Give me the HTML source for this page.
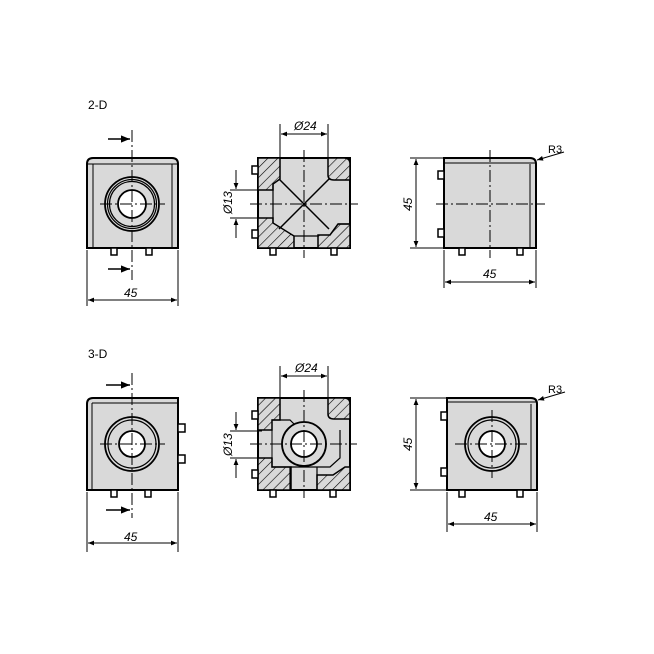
<!DOCTYPE html>
<html><head><meta charset="utf-8"><style>html,body{margin:0;padding:0;background:#fff}svg{display:block}</style></head><body>
<svg width="654" height="654" viewBox="0 0 654 654" xmlns="http://www.w3.org/2000/svg" font-family="Liberation Sans, sans-serif">
<defs>
<pattern id="h" width="7" height="7" patternUnits="userSpaceOnUse" patternTransform="rotate(45)">
<rect width="7" height="7" fill="#d9d9d9"/><line x1="0" y1="0" x2="0" y2="7" stroke="#000" stroke-width="1.2"/></pattern>
<marker id="a" viewBox="0 0 10 10" refX="10" refY="5" markerWidth="9" markerHeight="6" orient="auto-start-reverse"><path d="M0,1 L10,5 L0,9 z" fill="#000"/></marker>
<g id="peg"><rect x="-3" y="0" width="6" height="7" fill="#fff" stroke="#000" stroke-width="1.5"/></g>
</defs>
<g stroke="#000" stroke-width="1" fill="none">
<text x="88" y="109" font-size="12" fill="#000" stroke="none">2-D</text>
<text x="88" y="358" font-size="12" fill="#000" stroke="none">3-D</text>

<!-- ===== TOP LEFT ===== -->
<path d="M87,248 V164 Q87,158 93,158 H172 Q178,158 178,164 V248 Z" fill="#d9d9d9" stroke-width="2"/>
<line x1="93" y1="164" x2="93" y2="248"/><line x1="172" y1="164" x2="172" y2="248"/><line x1="87" y1="164" x2="178" y2="164"/>
<circle cx="132" cy="204" r="27" stroke-width="1.8"/><circle cx="132" cy="204" r="24.5" stroke-width="1.2"/><circle cx="132" cy="204" r="22.5" stroke-width="1.2"/>
<circle cx="132" cy="204" r="14" fill="#fff" stroke-width="1.8"/>
<use href="#peg" x="114" y="248"/><use href="#peg" x="149" y="248"/>
<line x1="132" y1="130" x2="132" y2="280" stroke-dasharray="12,3,2,3"/>
<line x1="100" y1="204" x2="165" y2="204" stroke-dasharray="12,3,2,3"/>
<line x1="108" y1="139" x2="130" y2="139" stroke-width="1.5" marker-end="url(#a)"/>
<line x1="108" y1="269" x2="130" y2="269" stroke-width="1.5" marker-end="url(#a)"/>
<line x1="87" y1="250" x2="87" y2="306"/><line x1="178" y1="250" x2="178" y2="306"/>
<line x1="88" y1="300" x2="177" y2="300" marker-start="url(#a)" marker-end="url(#a)"/>
<text x="124" y="297" font-size="12" font-style="italic" fill="#000" stroke="none">45</text>

<!-- ===== TOP MIDDLE ===== -->
<rect x="258" y="158" width="92" height="90" fill="#d9d9d9" stroke-width="2"/>
<path d="M258,158 H280 V179 L273,184 V190 H258 Z" fill="url(#h)" stroke-width="1.5"/>
<path d="M328,158 H344 Q350,158 350,164 V180 H334 Q328,180 328,175 Z" fill="url(#h)" stroke-width="1.5"/>
<path d="M258,218 H273 V223 L294,236 V248 H258 Z" fill="url(#h)" stroke-width="1.5"/>
<path d="M350,224 V248 H318 V235 H330 L338,224 Z" fill="url(#h)" stroke-width="1.5"/>
<line x1="279" y1="179" x2="329" y2="229" stroke-width="1.5"/>
<line x1="279" y1="229" x2="329" y2="179" stroke-width="1.5"/>
<path d="M273,184 V223 M294,236 H318 M338,224 H350" stroke-width="1.2"/>
<rect x="252" y="166" width="6" height="8" fill="#fff" stroke-width="1.5"/><rect x="252" y="230" width="6" height="8" fill="#fff" stroke-width="1.5"/>
<use href="#peg" x="273" y="248"/><use href="#peg" x="334" y="248"/>
<line x1="304" y1="150" x2="304" y2="258" stroke-dasharray="12,3,2,3"/>
<line x1="250" y1="204" x2="358" y2="204" stroke-dasharray="12,3,2,3"/>
<line x1="280" y1="124" x2="280" y2="158"/><line x1="328" y1="124" x2="328" y2="158"/>
<line x1="281" y1="134" x2="327" y2="134" marker-start="url(#a)" marker-end="url(#a)"/>
<text x="294" y="130" font-size="12" font-style="italic" fill="#000" stroke="none">Ø24</text>
<line x1="230" y1="190" x2="262" y2="190"/><line x1="230" y1="218" x2="262" y2="218"/>
<line x1="236" y1="170" x2="236" y2="189" marker-end="url(#a)"/><line x1="236" y1="238" x2="236" y2="219" marker-end="url(#a)"/>
<text x="0" y="0" font-size="12" font-style="italic" fill="#000" stroke="none" transform="translate(232,214) rotate(-90)">Ø13</text>

<!-- ===== TOP RIGHT ===== -->
<path d="M444,158 H530 Q536,158 536,164 V248 H444 Z" fill="#d9d9d9" stroke-width="2"/>
<line x1="530" y1="164" x2="530" y2="248"/><line x1="444" y1="163" x2="536" y2="163"/>
<rect x="438" y="171" width="6" height="8" fill="#fff" stroke-width="1.5"/><rect x="438" y="229" width="6" height="8" fill="#fff" stroke-width="1.5"/>
<use href="#peg" x="462" y="248"/><use href="#peg" x="520" y="248"/>
<line x1="490" y1="150" x2="490" y2="258" stroke-dasharray="12,3,2,3"/>
<line x1="436" y1="204" x2="545" y2="204" stroke-dasharray="12,3,2,3"/>
<line x1="410" y1="158" x2="443" y2="158"/><line x1="410" y1="248" x2="443" y2="248"/>
<line x1="416" y1="159" x2="416" y2="247" marker-start="url(#a)" marker-end="url(#a)"/>
<text x="0" y="0" font-size="12" font-style="italic" fill="#000" stroke="none" transform="translate(412,211) rotate(-90)">45</text>
<line x1="444" y1="250" x2="444" y2="288"/><line x1="536" y1="250" x2="536" y2="288"/>
<line x1="445" y1="282" x2="535" y2="282" marker-start="url(#a)" marker-end="url(#a)"/>
<text x="483" y="278" font-size="12" font-style="italic" fill="#000" stroke="none">45</text>
<line x1="564" y1="152" x2="537" y2="160" marker-end="url(#a)"/>
<text x="548" y="153" font-size="11" fill="#000" stroke="none">R3</text>

<!-- ===== BOTTOM LEFT ===== -->
<path d="M87,490 V404 Q87,398 93,398 H178 V490 Z" fill="#d9d9d9" stroke-width="2"/>
<line x1="92" y1="403" x2="92" y2="490"/><line x1="92" y1="403" x2="178" y2="403"/>
<circle cx="132" cy="444" r="27" stroke-width="1.8"/><circle cx="132" cy="444" r="24" stroke-width="1.2"/>
<circle cx="132" cy="444" r="13" fill="#fff" stroke-width="1.8"/>
<rect x="178" y="424" width="7" height="8" fill="#fff" stroke-width="1.5"/><rect x="178" y="455" width="7" height="8" fill="#fff" stroke-width="1.5"/>
<use href="#peg" x="114" y="490"/><use href="#peg" x="148" y="490"/>
<line x1="132" y1="373" x2="132" y2="518" stroke-dasharray="12,3,2,3"/>
<line x1="100" y1="444" x2="165" y2="444" stroke-dasharray="12,3,2,3"/>
<line x1="106" y1="385" x2="130" y2="385" stroke-width="1.5" marker-end="url(#a)"/>
<line x1="106" y1="510" x2="130" y2="510" stroke-width="1.5" marker-end="url(#a)"/>
<line x1="87" y1="492" x2="87" y2="552"/><line x1="178" y1="492" x2="178" y2="552"/>
<line x1="88" y1="543" x2="177" y2="543" marker-start="url(#a)" marker-end="url(#a)"/>
<text x="124" y="541" font-size="12" font-style="italic" fill="#000" stroke="none">45</text>

<!-- ===== BOTTOM MIDDLE ===== -->
<rect x="258" y="398" width="92" height="92" fill="#d9d9d9" stroke-width="2"/>
<path d="M258,398 H280 V420 H272 V430 H258 Z" fill="url(#h)" stroke-width="1.5"/>
<path d="M328,398 H344 Q350,398 350,404 V419 H334 Q328,419 328,414 Z" fill="url(#h)" stroke-width="1.5"/>
<path d="M258,458 H272 V467 H291 V490 H258 Z" fill="url(#h)" stroke-width="1.5"/>
<path d="M350,467 V490 H317 V475 H333 L345,467 Z" fill="url(#h)" stroke-width="1.5"/>
<path d="M272,420 H290 L300,430 M272,458 V467 H330 L340,458 L340,430 M290,467 V490 M317,467 V490" stroke-width="1.2"/>
<rect x="258" y="430" width="14" height="28" stroke-width="1"/>
<circle cx="304" cy="444" r="22" fill="#d9d9d9" stroke-width="1.8"/>
<circle cx="304" cy="444" r="13" fill="#fff" stroke-width="1.8"/>
<rect x="252" y="411" width="6" height="8" fill="#fff" stroke-width="1.5"/><rect x="252" y="470" width="6" height="8" fill="#fff" stroke-width="1.5"/>
<use href="#peg" x="273" y="490"/><use href="#peg" x="333" y="490"/>
<line x1="304" y1="390" x2="304" y2="498" stroke-dasharray="12,3,2,3"/>
<line x1="250" y1="444" x2="357" y2="444" stroke-dasharray="12,3,2,3"/>
<line x1="280" y1="366" x2="280" y2="398"/><line x1="328" y1="366" x2="328" y2="398"/>
<line x1="281" y1="376" x2="327" y2="376" marker-start="url(#a)" marker-end="url(#a)"/>
<text x="295" y="372" font-size="12" font-style="italic" fill="#000" stroke="none">Ø24</text>
<line x1="230" y1="431" x2="262" y2="431"/><line x1="230" y1="458" x2="262" y2="458"/>
<line x1="236" y1="412" x2="236" y2="430" marker-end="url(#a)"/><line x1="236" y1="478" x2="236" y2="459" marker-end="url(#a)"/>
<text x="0" y="0" font-size="12" font-style="italic" fill="#000" stroke="none" transform="translate(232,456) rotate(-90)">Ø13</text>

<!-- ===== BOTTOM RIGHT ===== -->
<path d="M447,398 H531 Q537,398 537,404 V490 H447 Z" fill="#d9d9d9" stroke-width="2"/>
<line x1="531" y1="404" x2="531" y2="490"/><line x1="447" y1="402" x2="537" y2="402"/>
<circle cx="492" cy="444" r="27" stroke-width="1.8"/><circle cx="492" cy="444" r="24" stroke-width="1.2"/>
<circle cx="492" cy="444" r="13" fill="#fff" stroke-width="1.8"/>
<rect x="441" y="412" width="6" height="8" fill="#fff" stroke-width="1.5"/><rect x="441" y="468" width="6" height="8" fill="#fff" stroke-width="1.5"/>
<use href="#peg" x="462" y="490"/><use href="#peg" x="520" y="490"/>
<line x1="492" y1="410" x2="492" y2="478" stroke-dasharray="12,3,2,3"/>
<line x1="455" y1="444" x2="530" y2="444" stroke-dasharray="12,3,2,3"/>
<line x1="410" y1="398" x2="446" y2="398"/><line x1="410" y1="490" x2="446" y2="490"/>
<line x1="416" y1="399" x2="416" y2="489" marker-start="url(#a)" marker-end="url(#a)"/>
<text x="0" y="0" font-size="12" font-style="italic" fill="#000" stroke="none" transform="translate(412,451) rotate(-90)">45</text>
<line x1="447" y1="492" x2="447" y2="532"/><line x1="537" y1="492" x2="537" y2="532"/>
<line x1="448" y1="524" x2="536" y2="524" marker-start="url(#a)" marker-end="url(#a)"/>
<text x="484" y="521" font-size="12" font-style="italic" fill="#000" stroke="none">45</text>
<line x1="565" y1="392" x2="538" y2="400" marker-end="url(#a)"/>
<text x="548" y="393" font-size="11" fill="#000" stroke="none">R3</text>
</g>
</svg>
</body></html>
